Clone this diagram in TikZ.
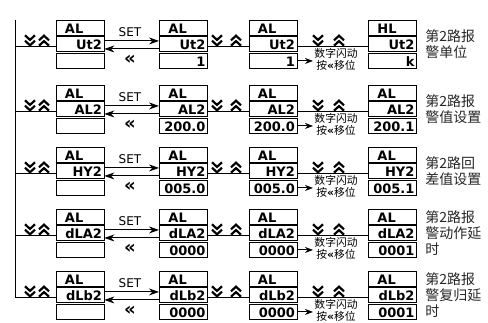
\documentclass[tikz,border=0pt]{standalone}
\usepackage{fontspec}
\setmainfont{DejaVu Sans}
\newfontfamily\cjk{Noto Sans CJK SC}
\newfontfamily\seg{DejaVu Sans}
\usetikzlibrary{arrows.meta}
\newcommand\dispbox[6]{%
  \node[cell] (#1t) at (#2,#3) {};
  \node[cell] (#1m) at (#2,#3+16.5) {};
  \node[cell] (#1b) at (#2,#3+33) {};
  \node[segl] (#1tt) at ([xshift=9pt,yshift=2.6pt]#1t.south west) {#4};
  \node[segr] (#1mt) at ([xshift=-2pt,yshift=2.6pt]#1m.south east) {#5};
  \node[segr] (#1bt) at ([xshift=-2pt,yshift=2.6pt]#1b.south east) {#6};
}
\begin{document}
\begin{tikzpicture}[x=1pt,y=-1pt,line width=0.9pt,
  cell/.style={draw,minimum width=48pt,minimum height=15pt,inner sep=0pt,anchor=north west},
  segr/.style={font=\seg\bfseries\fontsize{13}{13}\selectfont,anchor=base east,inner sep=0pt},
  segl/.style={font=\seg\bfseries\fontsize{13}{13}\selectfont,anchor=base west,inner sep=0pt},
  arr/.style={-{Stealth[length=10pt,width=7pt]}},
  harr/.style={-{Stealth[length=8pt,width=6pt]}},
  setlbl/.style={font=\fontsize{12}{12}\selectfont,inner sep=0pt},
  backlbl/.style={font=\seg\bfseries\fontsize{18}{18}\selectfont,inner sep=0pt},
  hint/.style={font=\cjk\fontsize{10.8}{12.5}\selectfont,align=center,inner sep=1pt,anchor=west},
  side/.style={font=\cjk\fontsize{14}{16}\selectfont,align=left,inner sep=0pt,anchor=west,text=black!85},
  chevdown/.pic={\draw[line width=2.2pt,miter limit=10] (-5,-5.2)--(0,-0.6)--(5,-5.2) (-5,0.2)--(0,4.8)--(5,0.2);},
  chevup/.pic={\draw[line width=2.2pt,miter limit=10] (-5,5.2)--(0,0.6)--(5,5.2) (-5,-0.2)--(0,-4.8)--(5,-0.2);}
]
\useasboundingbox (0,0) rectangle (488,323);
\coordinate (vtop) at (15,20);
\foreach \r/\T/\m/\v/\w/\h/\la in {
  1/20/Ut2/1/k/HL/{第2路报\\警单位},
  2/85/AL2/200.0/200.1/AL/{第2路报\\警值设置},
  3/147/HY2/005.0/005.1/AL/{第2路回\\差值设置},
  4/209/dLA2/0000/0001/AL/{第2路报\\警动作延\\时},
  5/271/dLb2/0000/0001/AL/{第2路报\\警复归延\\时}}{
  \dispbox{A\r}{55.5}{\T}{AL}{\m}{}
  \dispbox{B\r}{159}{\T}{AL}{\m}{\v}
  \dispbox{C\r}{248.5}{\T}{AL}{\m}{\v}
  \dispbox{D\r}{368}{\T}{\h}{\m}{\w}
  \coordinate (v\r) at (15,\T+26);
  \draw (v\r) -- (v\r -| A\r m.west);
  \draw ([yshift=-2pt]B\r m.east) -- ([yshift=-2pt]C\r m.west);
  \draw ([yshift=-2pt]C\r m.east) -- ([yshift=-2pt]D\r m.west);
  \draw[arr] ([yshift=3.5pt]A\r m.east) -- ([yshift=3.5pt]B\r m.west);
  \draw[arr] ([yshift=-4.5pt]B\r m.west) -- ([yshift=-4.5pt]A\r m.east);
  \node[setlbl] (S\r) at (130,\T+12) {SET};
  \node[backlbl] (K\r) at (130,\T+40) {«};
  \pic at (30,\T+20.5) {chevdown};
  \pic at (44,\T+20.5) {chevup};
  \pic at (217,\T+20.5) {chevdown};
  \pic at (236,\T+20.5) {chevup};
  \pic at (318,\T+20.5) {chevdown};
  \pic at (339,\T+20.5) {chevup};
  \node[hint] (H\r) at (313,\T+39.5) {数字闪动\\按{\seg\bfseries «}移位};
  \draw[harr] (C\r b.east) -- (C\r b.east -| H\r.west);
  \node[side] (L\r) at (425,\T+24) {\la};
}
\draw (vtop) -- (v5);
\end{tikzpicture}
\end{document}
